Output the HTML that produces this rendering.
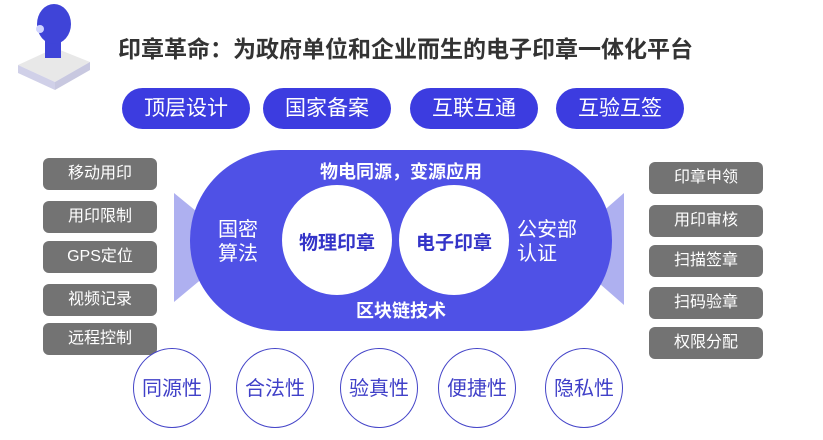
<!DOCTYPE html>
<html><head><meta charset="utf-8"><style>
body{margin:0;width:823px;height:440px;background:#fff;position:relative;overflow:hidden;font-family:"Liberation Sans","Noto Sans CJK SC",sans-serif}
.a{position:absolute}
.tp{position:absolute;top:88px;height:41px;width:128px;border-radius:21px;background:#3c3ce0;color:#fff;font-size:21px;line-height:41px;text-align:center}
.g{position:absolute;width:114px;height:32px;border-radius:6px;background:#737373;color:#fff;font-size:16px;line-height:32px;text-align:center}
.c{position:absolute;width:78px;height:80px;border:1.5px solid #4444c8;border-radius:50%;color:#4040c8;font-size:20px;line-height:80px;text-align:center;box-sizing:border-box;background:#fff}
</style></head><body>
<svg class="a" style="left:0;top:0" width="823" height="440">
<polygon points="18,65 55,48 90,62 55,82" fill="#e8e8e8"/>
<polygon points="18,65 55,82 55,90 18,73" fill="#d0d0e8"/>
<polygon points="55,82 90,62 90,70 55,90" fill="#c8c8e0"/>
<rect x="45" y="38" width="16" height="20" fill="#3f44d8"/>
<ellipse cx="54" cy="24" rx="17" ry="20" fill="#3f44d8"/>
<circle cx="40" cy="29" r="4" fill="#d0d4ff"/>
<polygon points="174,193 174,302 240,247" fill="#aeb0f0"/>
<polygon points="624,193 624,305 560,249" fill="#aeb0f0"/>
<rect x="190" y="150" width="422" height="181" rx="90" fill="#4f51e6"/>
<circle cx="337" cy="240" r="55" fill="#fff"/>
<circle cx="454" cy="240" r="55" fill="#fff"/>
</svg>
<div class="a" style="left:118px;top:30px;font-size:23px;font-weight:bold;color:#333">印章革命：为政府单位和企业而生的电子印章一体化平台</div>
<div class="tp" style="left:122px">顶层设计</div>
<div class="tp" style="left:263px">国家备案</div>
<div class="tp" style="left:410px">互联互通</div>
<div class="tp" style="left:556px">互验互签</div>
<div class="a" style="left:190px;width:422px;top:158px;text-align:center;color:#fff;font-size:18px;font-weight:bold">物电同源，变源应用</div>
<div class="a" style="left:190px;width:422px;top:297px;text-align:center;color:#fff;font-size:18px;font-weight:bold">区块链技术</div>
<div class="a" style="left:218px;top:218px;color:#fff;font-size:20px;line-height:24px">国密<br>算法</div>
<div class="a" style="left:517px;top:218px;color:#fff;font-size:20px;line-height:24px">公安部<br>认证</div>
<div class="a" style="left:282px;width:110px;top:228px;text-align:center;color:#3434c8;font-size:19px;font-weight:bold">物理印章</div>
<div class="a" style="left:399px;width:110px;top:228px;text-align:center;color:#3434c8;font-size:19px;font-weight:bold">电子印章</div>
<div class="g" style="left:43px;top:158px">移动用印</div>
<div class="g" style="left:43px;top:201px">用印限制</div>
<div class="g" style="left:43px;top:241px">GPS定位</div>
<div class="g" style="left:43px;top:284px">视频记录</div>
<div class="g" style="left:43px;top:323px">远程控制</div>
<div class="g" style="left:649px;top:162px">印章申领</div>
<div class="g" style="left:649px;top:205px">用印审核</div>
<div class="g" style="left:649px;top:245px">扫描签章</div>
<div class="g" style="left:649px;top:287px">扫码验章</div>
<div class="g" style="left:649px;top:327px">权限分配</div>
<div class="c" style="left:133px;top:348px">同源性</div>
<div class="c" style="left:236px;top:348px">合法性</div>
<div class="c" style="left:340px;top:348px">验真性</div>
<div class="c" style="left:438px;top:348px">便捷性</div>
<div class="c" style="left:545px;top:348px">隐私性</div>
</body></html>
